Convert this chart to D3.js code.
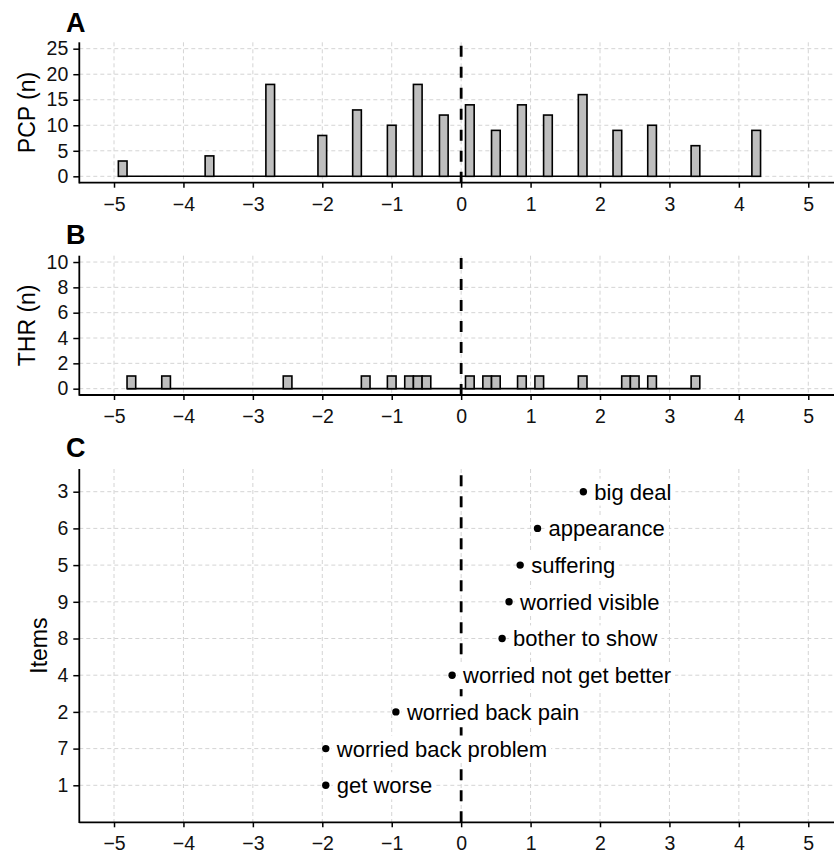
<!DOCTYPE html>
<html>
<head>
<meta charset="utf-8">
<script src="https://cdn.jsdelivr.net/npm/d3@7"></script>
<style>
  body { margin: 0; background: #fff; }
  text { font-family: "Liberation Sans", Arial, sans-serif; }
</style>
</head>
<body>
<div id="chart"></div>
<script>
// Histogram bins (bin centres) and counts
const binWidth = 0.125;
const pcpX = [-4.875, -3.625, -2.75, -2, -1.5, -1, -0.625, -0.25, 0.125, 0.5, 0.875, 1.25, 1.75, 2.25, 2.75, 3.375, 4.25];
const pcpN = [3, 4, 18, 8, 13, 10, 18, 12, 14, 9, 14, 12, 16, 9, 10, 6, 9];

const thrX = [-4.75, -4.25, -2.5, -1.375, -1, -0.75, -0.625, -0.5, 0.125, 0.375, 0.5, 0.875, 1.125, 1.75, 2.375, 2.5, 2.75, 3.375];
const thrN = [1, 1, 1, 1, 1, 1, 1, 1, 1, 1, 1, 1, 1, 1, 1, 1, 1, 1];

// Item locations (top to bottom)
const itemIds = ['3', '6', '5', '9', '8', '4', '2', '7', '1'];
const itemLabels = ['big deal', 'appearance', 'suffering', 'worried visible', 'bother to show',
    'worried not get better', 'worried back pain', 'worried back problem', 'get worse'];
const itemVals = [1.76, 1.10, 0.85, 0.69, 0.59, -0.13, -0.94, -1.95, -1.95];

// Tick labels
const xTicks = [-5, -4, -3, -2, -1, 0, 1, 2, 3, 4, 5];
const pcpTicks = [0, 5, 10, 15, 20, 25];
const thrTicks = [0, 2, 4, 6, 8, 10];

const W = 834, H = 854;
const left = 79.3;

const svg = d3.select('#chart').append('svg')
    .attr('width', W)
    .attr('height', H);

const x = d3.scaleLinear().domain([-5.5, 5.5]).range([left, 843]);

const gridColor = '#d4d4d4';

function drawFrame(top, bottom, y, yTickVals, yTickFmt, title, titleX, letter, letterY) {
    const g = svg.append('g');

    // grid
    g.selectAll('line.vg').data(xTicks).enter().append('line')
        .attr('x1', d => x(d)).attr('x2', d => x(d))
        .attr('y1', top).attr('y2', bottom)
        .style('stroke', gridColor).style('stroke-width', 1)
        .style('stroke-dasharray', '4,3');
    g.selectAll('line.hg').data(yTickVals).enter().append('line')
        .attr('x1', left).attr('x2', W)
        .attr('y1', d => y(d)).attr('y2', d => y(d))
        .style('stroke', gridColor).style('stroke-width', 1)
        .style('stroke-dasharray', '4,3');

    // x axis
    const xa = svg.append('g')
        .attr('transform', `translate(0,${bottom})`)
        .call(d3.axisBottom(x).tickValues(xTicks).tickSize(5).tickPadding(9));
    xa.select('.domain').remove();
    xa.selectAll('line').style('stroke', '#000').style('stroke-width', 1.5);
    xa.selectAll('text').style('font-size', '19.5px').style('fill', '#111')
        .style('font-family', '"Liberation Sans", Arial, sans-serif');

    // y axis
    const ya = svg.append('g')
        .attr('transform', `translate(${left},0)`)
        .call(d3.axisLeft(y).tickValues(yTickVals).tickFormat(yTickFmt).tickSize(6).tickPadding(5));
    ya.select('.domain').remove();
    ya.selectAll('line').style('stroke', '#000').style('stroke-width', 1.5);
    ya.selectAll('text').style('font-size', '19.5px').style('fill', '#111')
        .style('font-family', '"Liberation Sans", Arial, sans-serif');

    // axis lines
    svg.append('line').attr('x1', left).attr('x2', left).attr('y1', top).attr('y2', bottom + 0.75)
        .style('stroke', '#000').style('stroke-width', 1.8);
    svg.append('line').attr('x1', left).attr('x2', W).attr('y1', bottom).attr('y2', bottom)
        .style('stroke', '#000').style('stroke-width', 1.8);

    // title
    svg.append('text')
        .attr('transform', `translate(${titleX},${(top + bottom) / 2}) rotate(-90)`)
        .attr('text-anchor', 'middle')
        .style('font-size', '23px')
        .text(title);

    // panel letter
    svg.append('text')
        .attr('x', 66).attr('y', letterY)
        .style('font-size', '27px').style('font-weight', 'bold')
        .text(letter);

    return g;
}

function zeroLine(g, top, bottom) {
    // dashed reference line at 0, drawn from bottom up
    g.append('line')
        .attr('x1', x(0)).attr('x2', x(0))
        .attr('y1', bottom).attr('y2', top)
        .style('stroke', '#000').style('stroke-width', 2.8)
        .style('stroke-dasharray', '11,10');
}

function drawHist(g, xs, ns, y) {
    const lo = d3.min(xs) - binWidth / 2;
    const hi = d3.max(xs) + binWidth / 2;
    g.append('line')
        .attr('x1', x(lo)).attr('x2', x(hi))
        .attr('y1', y(0)).attr('y2', y(0))
        .style('stroke', '#000').style('stroke-width', 1.6);
    g.selectAll('rect').data(xs).enter().append('rect')
        .attr('x', d => x(d - binWidth / 2))
        .attr('width', d => x(d + binWidth / 2) - x(d - binWidth / 2))
        .attr('y', (d, i) => y(ns[i]))
        .attr('height', (d, i) => y(0) - y(ns[i]))
        .style('fill', '#bebebe')
        .style('stroke', '#000')
        .style('stroke-width', 1.6);
}

// Panel A
const aTop = 42.3, aBottom = 182.7;
const yA = d3.scaleLinear().domain([-1.25, 26.25]).range([aBottom, aTop]);
const gA = drawFrame(aTop, aBottom, yA, pcpTicks, d => d, 'PCP (n)', 35, 'A', 31.5);
drawHist(gA, pcpX, pcpN, yA);
zeroLine(gA, aTop, aBottom);

// Panel B
const bTop = 255.7, bBottom = 395;
const yB = d3.scaleLinear().domain([-0.5, 10.5]).range([bBottom, bTop]);
const gB = drawFrame(bTop, bBottom, yB, thrTicks, d => d, 'THR (n)', 35, 'B', 244);
drawHist(gB, thrX, thrN, yB);
zeroLine(gB, bTop, bBottom);

// Panel C
const cTop = 469, cBottom = 822.3;
const yC = d3.scalePoint().domain(itemIds).range([491.7, 785.3]);
const gC = drawFrame(cTop, cBottom, yC, itemIds, d => d, 'Items', 46.5, 'C', 456.5);
zeroLine(gC, cTop, cBottom);

gC.selectAll('circle').data(itemIds).enter().append('circle')
    .attr('cx', (d, i) => x(itemVals[i]))
    .attr('cy', d => yC(d))
    .attr('r', 3.7)
    .style('fill', '#000');

// labels sit on white boxes (they hide the dashed line)
const lbl = gC.selectAll('g.lbl').data(itemIds).enter().append('g')
    .attr('class', 'lbl')
    .attr('transform', (d, i) => `translate(${x(itemVals[i]) + 11},${yC(d)})`);

const lblBox = lbl.append('rect').style('fill', '#fff');
const lblText = lbl.append('text')
    .attr('dy', '0.36em')
    .style('font-size', '22px')
    .style('fill', '#000')
    .text((d, i) => itemLabels[i]);

lblText.each(function(d, i) {
    const b = this.getBBox();
    d3.select(lblBox.nodes()[i])
        .attr('x', b.x - 4).attr('y', b.y - 1)
        .attr('width', b.width + 8).attr('height', b.height + 2);
});
</script>
</body>
</html>
